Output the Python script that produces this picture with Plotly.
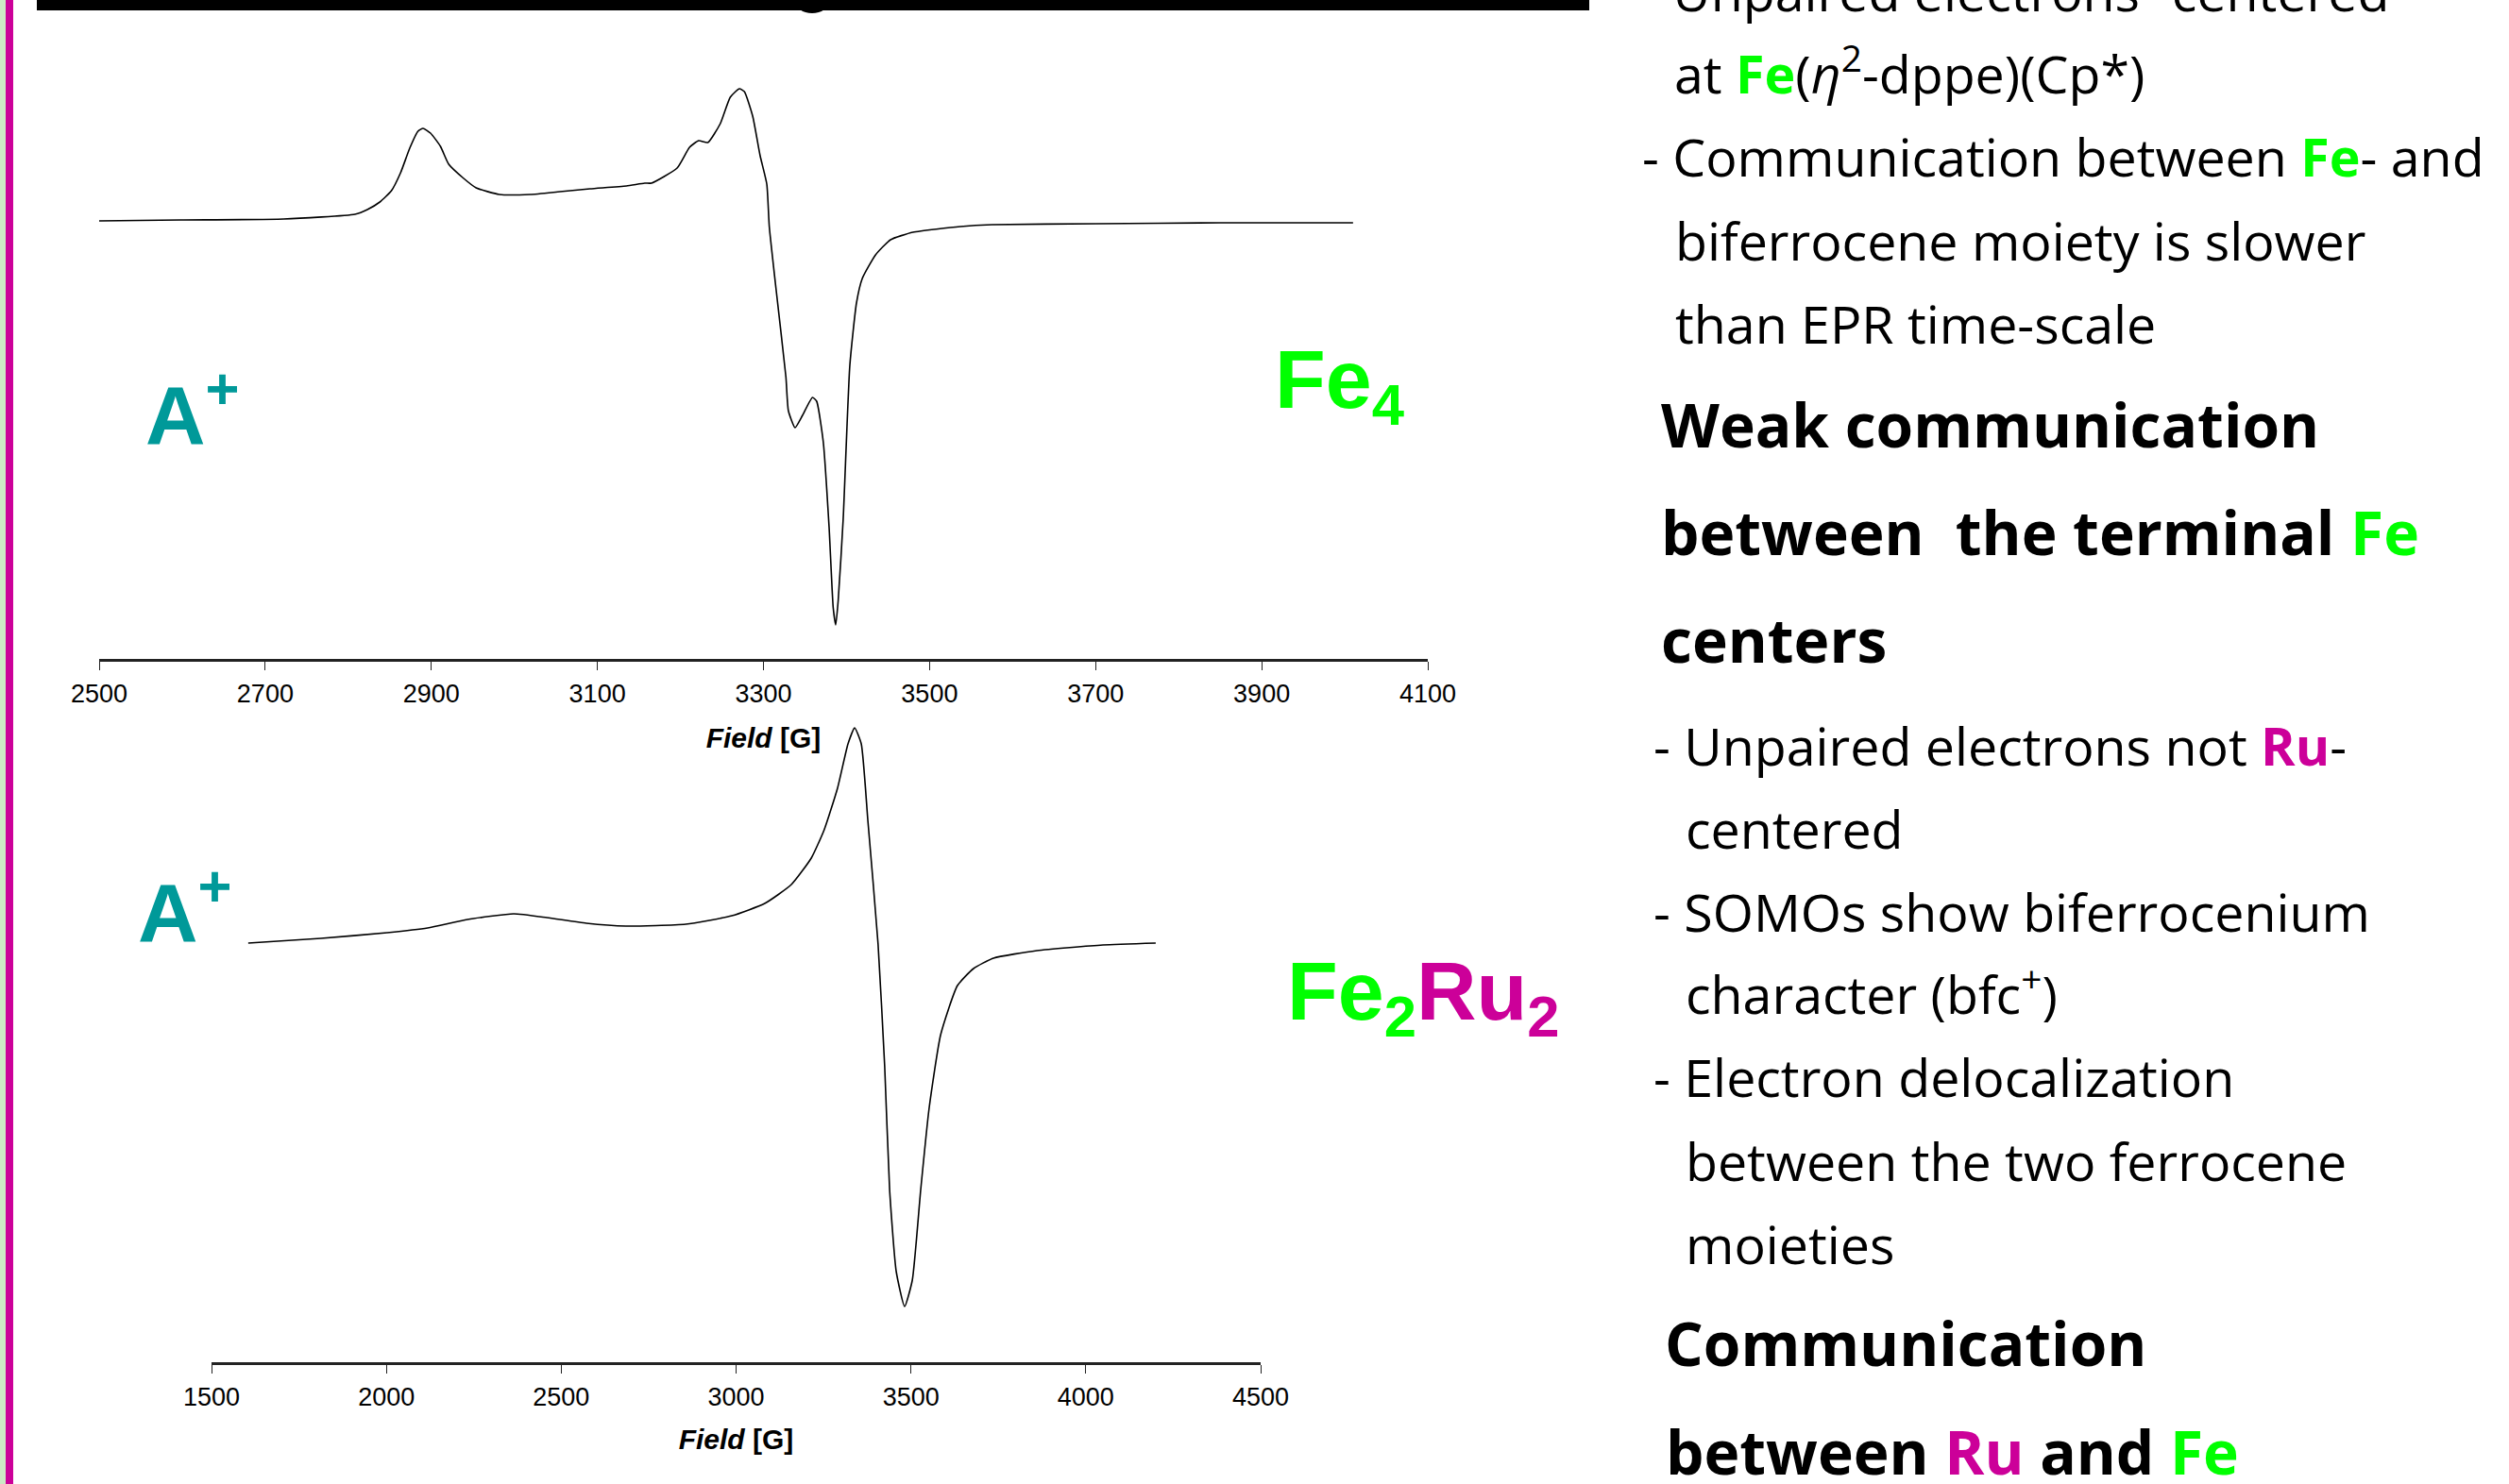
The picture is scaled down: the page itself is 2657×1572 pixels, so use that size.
import plotly.graph_objects as go

# ---------------- data ----------------
# Top spectrum (Fe4, A+): magnetic field [G] and EPR intensity (a.u.)
fe4_field = [2500, 2598, 2722, 2808, 2823, 2838, 2852, 2863, 2874, 2884, 2890, 2899, 2911,
             2921, 2939, 2954, 2982, 3019, 3055, 3091, 3135, 3157, 3165, 3196, 3211, 3222,
             3233, 3248, 3260, 3271, 3277, 3287, 3296, 3304, 3307, 3315, 3327, 3330, 3338,
             3347, 3359, 3364, 3372, 3379, 3384, 3387, 3390, 3396, 3404, 3412, 3419, 3435,
             3453, 3480, 3537, 3575, 3700, 3850, 4010]
fe4_signal = [0, 1, 2, 7, 12, 20, 32, 51, 77, 95, 98, 93, 79,
              60, 45, 35, 28, 28, 31, 34, 37, 40, 40, 56, 78, 85,
              83, 103, 131, 140, 137, 111, 69, 39, -6, -71, -165, -201, -219,
              -206, -187, -191, -234, -324, -410, -428, -402, -316, -153, -87, -61, -36,
              -20, -12, -6, -4, -3, -2, -2]

# Bottom spectrum (Fe2Ru2, A+)
ferU_field = [1605, 1813, 2002, 2118, 2232, 2364, 2459, 2572, 2685, 2856, 2988, 3082, 3158,
              3215, 3252, 3290, 3320, 3339, 3358, 3377, 3406, 3425, 3439, 3458, 3482, 3504,
              3528, 3552, 3585, 3633, 3679, 3736, 3860, 4049, 4200]
ferU_signal = [0, 5, 11, 16, 25, 31, 27, 21, 18, 20, 29, 42, 62,
               90, 120, 164, 211, 228, 211, 129, -1, -131, -261, -348, -385, -357,
               -261, -175, -97, -45, -27, -16, -8, -2, 0]

top_ticks = [2500, 2700, 2900, 3100, 3300, 3500, 3700, 3900, 4100]
bottom_ticks = [1500, 2000, 2500, 3000, 3500, 4000, 4500]
axis_title = "<b><i>Field</i> [G]</b>"

FE = "#00FF00"
RU = "#CC0099"
TEAL = "#009999"

W, H = 2657, 1572


def px_x(x):
    return x / W


def px_y(y):
    return 1 - y / H


fig = go.Figure()
fig.add_trace(go.Scatter(x=fe4_field, y=fe4_signal, mode="lines", xaxis="x", yaxis="y",
                         line=dict(color="black", width=1.6, shape="spline", smoothing=0.5),
                         showlegend=False, name="Fe4"))
fig.add_trace(go.Scatter(x=ferU_field, y=ferU_signal, mode="lines", xaxis="x2", yaxis="y2",
                         line=dict(color="black", width=1.6, shape="spline", smoothing=0.5),
                         showlegend=False, name="Fe2Ru2"))

tickfont = dict(family="Liberation Sans, Arial", size=27, color="black")
titlefont = dict(family="Liberation Sans, Arial", size=30, color="black")

common_x = dict(showline=True, linecolor="#222222", linewidth=3, ticks="outside", ticklen=9,
                tickwidth=1.2, tickcolor="#222222", showgrid=False, zeroline=False,
                tickfont=tickfont, automargin=False, ticklabelstandoff=2)

fig.update_layout(
    width=W, height=H, margin=dict(l=0, r=0, t=0, b=0),
    paper_bgcolor="white", plot_bgcolor="rgba(0,0,0,0)",
    xaxis=dict(domain=[px_x(105), px_x(1512)], range=[2500, 4100], tickvals=top_ticks,
               anchor="y", title=dict(text=axis_title, font=titlefont, standoff=22), **common_x),
    yaxis=dict(domain=[px_y(698), px_y(80)], range=[-464, 154], visible=False, anchor="x"),
    xaxis2=dict(domain=[px_x(224), px_x(1335)], range=[1500, 4500], tickvals=bottom_ticks,
                anchor="y2", title=dict(text=axis_title, font=titlefont, standoff=20), **common_x),
    yaxis2=dict(domain=[px_y(1443), px_y(760)], range=[-444, 239], visible=False, anchor="x2"),
)

# slide decorations
shapes = [
    dict(type="rect", xref="paper", yref="paper", x0=0, x1=px_x(6), y0=0, y1=1,
         fillcolor="#CDE8C5", line=dict(width=0), layer="above"),
    dict(type="rect", xref="paper", yref="paper", x0=px_x(6), x1=px_x(14), y0=0, y1=1,
         fillcolor=RU, line=dict(width=0), layer="above"),
    dict(type="rect", xref="paper", yref="paper", x0=px_x(39), x1=px_x(1683), y0=px_y(11), y1=1.01,
         fillcolor="black", line=dict(width=0), layer="above"),
    dict(type="circle", xref="paper", yref="paper", x0=px_x(842), x1=px_x(878), y0=px_y(14), y1=px_y(-12),
         fillcolor="black", line=dict(width=0), layer="above"),
]
fig.update_layout(shapes=shapes)

annotations = []


def ann(text, x, baseline, size, family, desc, color="black", bottom_extra=0.0):
    annotations.append(dict(
        text=text, xref="paper", yref="paper", x=px_x(x), y=px_y(baseline + desc * size + 1 + bottom_extra),
        xanchor="left", yanchor="bottom", showarrow=False, align="left",
        font=dict(family=family, size=size, color=color)))


ARIAL = "Liberation Sans, Arial"
OPEN = "Open Sans"
# chart labels
ann("<b>A<sup>+</sup></b>", 152, 471, 88, ARIAL, 0.212, TEAL)
ann("<b>A<sup>+</sup></b>", 144, 998, 88, ARIAL, 0.212, TEAL)
ann("<b>Fe<sub>4</sub></b>", 1348, 432, 88, ARIAL, 0.212, FE, bottom_extra=0.146 * 88)
ann("<b>Fe<sub>2</sub><span style='color:%s'>Ru<sub>2</sub></span></b>" % RU, 1361, 1080, 88, ARIAL,
    0.212, FE, bottom_extra=0.146 * 88)


def fe(t="Fe"):
    return "<b><span style='color:%s'>%s</span></b>" % (FE, t)


def ru(t="Ru"):
    return "<b><span style='color:%s'>%s</span></b>" % (RU, t)


N, B = 55.5, 64
ann("- Unpaired electrons \u201ccentered\u201d", 1737, 13, N, OPEN, 0.293)
ann("at " + fe() + "(<i>\u03b7</i><sup>2</sup>-dppe)(Cp*)", 1771, 100, N, OPEN, 0.293)
ann("- Communication between " + fe() + "- and", 1737, 188, N, OPEN, 0.293)
ann("biferrocene moiety is slower", 1772, 277, N, OPEN, 0.293)
ann("than EPR time-scale", 1772, 365, N, OPEN, 0.293)
ann("<b>Weak communication</b>", 1757, 475, B, OPEN, 0.293)
ann("<b>between\u00a0 the terminal </b>" + fe(), 1757, 589, B, OPEN, 0.293)
ann("<b>centers</b>", 1757, 703, B, OPEN, 0.293)
ann("- Unpaired electrons not " + ru() + "-", 1749, 812, N, OPEN, 0.293)
ann("centered", 1783, 900, N, OPEN, 0.293)
ann("- SOMOs show biferrocenium", 1749, 988, N, OPEN, 0.293)
ann("character (bfc<sup>+</sup>)", 1783, 1075, N, OPEN, 0.293)
ann("- Electron delocalization", 1749, 1163, N, OPEN, 0.293)
ann("between the two ferrocene", 1783, 1252, N, OPEN, 0.293)
ann("moieties", 1783, 1340, N, OPEN, 0.293)
ann("<b>Communication</b>", 1761, 1448, B, OPEN, 0.293)
ann("<b>between </b>" + ru() + "<b> and </b>" + fe(), 1762, 1563, B, OPEN, 0.293)

fig.update_layout(annotations=annotations)

fig.write_html("out.html", config={"displayModeBar": False},
               post_script="document.body.style.margin='0';document.body.style.overflow='hidden';")
